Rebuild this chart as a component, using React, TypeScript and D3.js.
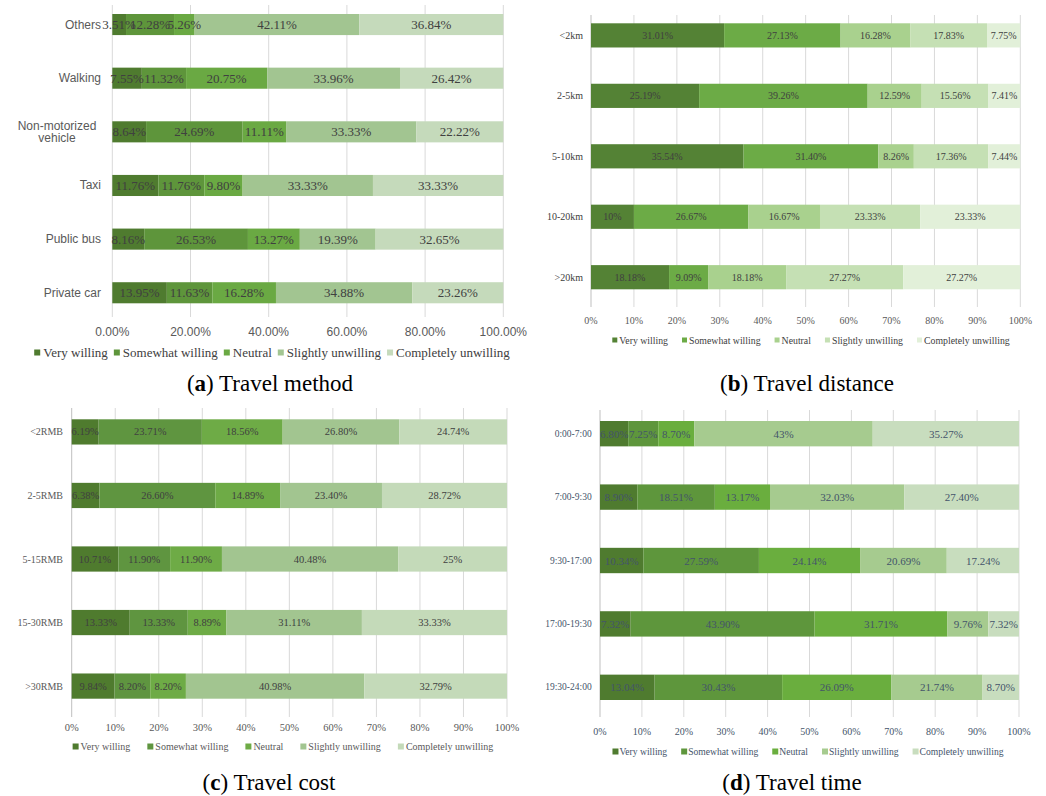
import React from "react";
import * as d3 from "d3";

const legendLabels = ["Very willing", "Somewhat willing", "Neutral", "Slightly unwilling", "Completely unwilling"];

const methodCategories = ["Others", "Walking", "Non-motorized vehicle", "Taxi", "Public bus", "Private car"];
const methodValues = [
  [3.51, 12.28, 5.26, 42.11, 36.84],
  [7.55, 11.32, 20.75, 33.96, 26.42],
  [8.64, 24.69, 11.11, 33.33, 22.22],
  [11.76, 11.76, 9.8, 33.33, 33.33],
  [8.16, 26.53, 13.27, 19.39, 32.65],
  [13.95, 11.63, 16.28, 34.88, 23.26],
];

const distanceCategories = ["<2km", "2-5km", "5-10km", "10-20km", ">20km"];
const distanceValues = [
  [31.01, 27.13, 16.28, 17.83, 7.75],
  [25.19, 39.26, 12.59, 15.56, 7.41],
  [35.54, 31.4, 8.26, 17.36, 7.44],
  [10, 26.67, 16.67, 23.33, 23.33],
  [18.18, 9.09, 18.18, 27.27, 27.27],
];

const costCategories = ["<2RMB", "2-5RMB", "5-15RMB", "15-30RMB", ">30RMB"];
const costValues = [
  [6.19, 23.71, 18.56, 26.8, 24.74],
  [6.38, 26.6, 14.89, 23.4, 28.72],
  [10.71, 11.9, 11.9, 40.48, 25],
  [13.33, 13.33, 8.89, 31.11, 33.33],
  [9.84, 8.2, 8.2, 40.98, 32.79],
];

const timeCategories = ["0:00-7:00", "7:00-9:30", "9:30-17:00", "17:00-19:30", "19:30-24:00"];
const timeValues = [
  [6.8, 7.25, 8.7, 43, 35.27],
  [8.9, 18.51, 13.17, 32.03, 27.4],
  [10.34, 27.59, 24.14, 20.69, 17.24],
  [7.32, 43.9, 31.71, 9.76, 7.32],
  [13.04, 30.43, 26.09, 21.74, 8.7],
];

const captions = [
  { letter: "a", title: "Travel method" },
  { letter: "b", title: "Travel distance" },
  { letter: "c", title: "Travel cost" },
  { letter: "d", title: "Travel time" },
];

const SERIF = "'Liberation Serif', 'Times New Roman', serif";
const SANS = "'Liberation Sans', Arial, sans-serif";

let _ctx: CanvasRenderingContext2D | null = null;
function measure(text: string, font: string) {
  if (!_ctx) _ctx = document.createElement("canvas").getContext("2d");
  if (!_ctx) return text.length * 6;
  _ctx.font = font;
  return _ctx.measureText(text).width;
}

const fmtVal = (v: number) => (Number.isInteger(v) ? `${v}%` : `${v.toFixed(2)}%`);

type Cfg = {
  categories: string[];
  values: number[][];
  colors: string[];
  xRange: [number, number];
  yRange: [number, number];
  pad: number;
  gridTop: number;
  gridBottom: number;
  gridColor: string;
  axisColor: string;
  ticks: number;
  tickFmt: (v: number) => string;
  tickY: number;
  tickFont: string;
  tickSize: number;
  tickColor: string;
  catRight: number;
  catFont: string;
  catSize: number;
  catColor: string;
  wrapCenter?: number;
  valFont: string;
  valSize: number;
  valColor: string;
  legendY: number;
  legendCenter: number;
  legendSize: number;
  legendColor: string;
  legendSq: number;
  legendSqGap: number;
  legendGap: number;
  caption: { letter: string; title: string };
  captionX: number;
  captionY: number;
};

function Panel({ cfg }: { cfg: Cfg }) {
  const x = d3.scaleLinear().domain([0, 1]).range(cfg.xRange);
  const y = d3
    .scaleBand<string>()
    .domain(cfg.categories)
    .range(cfg.yRange)
    .paddingInner(cfg.pad)
    .paddingOuter(0);
  const keys = cfg.values[0].map((_, i) => String(i));
  const rows = cfg.values.map((vals, i) => {
    const o: any = { cat: cfg.categories[i] };
    vals.forEach((v, j) => (o[String(j)] = v));
    return o;
  });
  const series = d3
    .stack<any>()
    .keys(keys)
    .value((d, k) => d[k])
    .offset(d3.stackOffsetExpand)(rows);
  const ticks = x.ticks(cfg.ticks);

  const lfont = `${cfg.legendSize}px ${cfg.valFont}`;
  const widths = legendLabels.map((l) => measure(l, lfont));
  const itemW = widths.map((w) => cfg.legendSq + cfg.legendSqGap + w);
  const total = d3.sum(itemW) + cfg.legendGap * (legendLabels.length - 1);
  let lx = cfg.legendCenter - total / 2;
  const legendPos = itemW.map((w) => {
    const p = lx;
    lx += w + cfg.legendGap;
    return p;
  });

  return (
    <g>
      {ticks.map((t, i) => (
        <line
          key={"g" + i}
          x1={x(t)}
          x2={x(t)}
          y1={cfg.gridTop}
          y2={cfg.gridBottom}
          stroke={i === 0 ? cfg.axisColor : cfg.gridColor}
          strokeWidth={1}
        />
      ))}
      {series.map((s, si) =>
        s.map((d, di) => {
          const cat = (d.data as any).cat as string;
          const x0 = x(d[0]);
          const x1 = x(d[1]);
          const yy = y(cat) as number;
          return (
            <rect
              key={`b${si}-${di}`}
              x={x0}
              y={yy}
              width={x1 - x0}
              height={y.bandwidth()}
              fill={cfg.colors[si]}
            />
          );
        })
      )}
      {series.map((s, si) =>
        s.map((d, di) => {
          const cat = (d.data as any).cat as string;
          const x0 = x(d[0]);
          const x1 = x(d[1]);
          const yy = (y(cat) as number) + y.bandwidth() / 2;
          return (
            <text
              key={`t${si}-${di}`}
              x={(x0 + x1) / 2}
              y={yy}
              textAnchor="middle"
              dominantBaseline="central"
              fontFamily={cfg.valFont}
              fontSize={cfg.valSize}
              fill={cfg.valColor}
            >
              {fmtVal(cfg.values[di][si])}
            </text>
          );
        })
      )}
      {cfg.categories.map((c) => {
        const cy = (y(c) as number) + y.bandwidth() / 2;
        const parts = c.split(" ");
        if (cfg.wrapCenter !== undefined && measure(c, `${cfg.catSize}px ${cfg.catFont}`) > 85) {
          const l1 = parts[0];
          const l2 = parts.slice(1).join(" ");
          return (
            <text
              key={c}
              textAnchor="middle"
              fontFamily={cfg.catFont}
              fontSize={cfg.catSize}
              fill={cfg.catColor}
              dominantBaseline="central"
            >
              <tspan x={cfg.wrapCenter} y={cy - 5.5}>
                {l1}
              </tspan>
              <tspan x={cfg.wrapCenter} y={cy + 6.5}>
                {l2}
              </tspan>
            </text>
          );
        }
        return (
          <text
            key={c}
            x={cfg.catRight}
            y={cy}
            textAnchor="end"
            dominantBaseline="central"
            fontFamily={cfg.catFont}
            fontSize={cfg.catSize}
            fill={cfg.catColor}
          >
            {c}
          </text>
        );
      })}
      {ticks.map((t, i) => (
        <text
          key={"tk" + i}
          x={x(t)}
          y={cfg.tickY}
          textAnchor="middle"
          dominantBaseline="central"
          fontFamily={cfg.tickFont}
          fontSize={cfg.tickSize}
          fill={cfg.tickColor}
        >
          {cfg.tickFmt(t)}
        </text>
      ))}
      {legendLabels.map((l, i) => (
        <g key={"lg" + i}>
          <rect
            x={legendPos[i]}
            y={cfg.legendY - cfg.legendSq / 2}
            width={cfg.legendSq}
            height={cfg.legendSq}
            fill={cfg.colors[i]}
          />
          <text
            x={legendPos[i] + cfg.legendSq + cfg.legendSqGap}
            y={cfg.legendY}
            dominantBaseline="central"
            fontFamily={cfg.valFont}
            fontSize={cfg.legendSize}
            fill={cfg.legendColor}
          >
            {l}
          </text>
        </g>
      ))}
      <text
        x={cfg.captionX}
        y={cfg.captionY}
        textAnchor="middle"
        fontFamily={SERIF}
        fontSize={23}
        fill="#000"
      >
        (<tspan fontWeight="bold">{cfg.caption.letter}</tspan>) {cfg.caption.title}
      </text>
    </g>
  );
}

const pct2 = d3.format(".2%");
const pct0 = d3.format(".0%");

const panels: Cfg[] = [
  {
    categories: methodCategories,
    values: methodValues,
    colors: ["#4f7b2f", "#5e953b", "#6aa943", "#a2c591", "#c5dabb"],
    xRange: [112.3, 503.3],
    yRange: [14, 303.3],
    pad: 0.607,
    gridTop: 5,
    gridBottom: 317,
    gridColor: "#d9d9d9",
    axisColor: "#d9d9d9",
    ticks: 5,
    tickFmt: (v) => pct2(v),
    tickY: 331.5,
    tickFont: SANS,
    tickSize: 12,
    tickColor: "#595959",
    catRight: 101,
    catFont: SANS,
    catSize: 12,
    catColor: "#595959",
    wrapCenter: 57,
    valFont: SERIF,
    valSize: 13,
    valColor: "#404040",
    legendY: 352.5,
    legendCenter: 272,
    legendSize: 13,
    legendColor: "#404040",
    legendSq: 6,
    legendSqGap: 3,
    legendGap: 6,
    caption: captions[0],
    captionX: 270,
    captionY: 391,
  },
  {
    categories: distanceCategories,
    values: distanceValues,
    colors: ["#548235", "#6cab46", "#a9d18e", "#c5e0b4", "#e2f0d9"],
    xRange: [591, 1020.3],
    yRange: [23.3, 289.3],
    pad: 0.6,
    gridTop: 15,
    gridBottom: 307,
    gridColor: "#d9d9d9",
    axisColor: "#bfbfbf",
    ticks: 10,
    tickFmt: (v) => pct0(v),
    tickY: 320.5,
    tickFont: SERIF,
    tickSize: 10,
    tickColor: "#595959",
    catRight: 583,
    catFont: SERIF,
    catSize: 10,
    catColor: "#404040",
    valFont: SERIF,
    valSize: 10,
    valColor: "#404040",
    legendY: 340,
    legendCenter: 811,
    legendSize: 9.8,
    legendColor: "#404040",
    legendSq: 5,
    legendSqGap: 2,
    legendGap: 14,
    caption: captions[1],
    captionX: 807,
    captionY: 391,
  },
  {
    categories: costCategories,
    values: costValues,
    colors: ["#4f7b2e", "#5f9540", "#6eab46", "#a2c590", "#c4dab9"],
    xRange: [71.7, 507],
    yRange: [419.3, 698.7],
    pad: 0.603,
    gridTop: 408,
    gridBottom: 717,
    gridColor: "#d9d9d9",
    axisColor: "#bfbfbf",
    ticks: 10,
    tickFmt: (v) => pct0(v),
    tickY: 727.7,
    tickFont: SERIF,
    tickSize: 10.5,
    tickColor: "#595959",
    catRight: 63,
    catFont: SERIF,
    catSize: 10,
    catColor: "#595959",
    valFont: SERIF,
    valSize: 10.5,
    valColor: "#404040",
    legendY: 746.5,
    legendCenter: 283,
    legendSize: 10,
    legendColor: "#595959",
    legendSq: 6,
    legendSqGap: 2,
    legendGap: 17,
    caption: captions[2],
    captionX: 269,
    captionY: 790,
  },
  {
    categories: timeCategories,
    values: timeValues,
    colors: ["#4f7b2f", "#5e963c", "#6aae3e", "#a6cb8f", "#c8ddbe"],
    xRange: [600, 1019],
    yRange: [421, 700],
    pad: 0.6,
    gridTop: 410,
    gridBottom: 717,
    gridColor: "#d9d9d9",
    axisColor: "#bfbfbf",
    ticks: 10,
    tickFmt: (v) => pct0(v),
    tickY: 731.5,
    tickFont: SERIF,
    tickSize: 10,
    tickColor: "#44546a",
    catRight: 591.7,
    catFont: SERIF,
    catSize: 9.5,
    catColor: "#44546a",
    valFont: SERIF,
    valSize: 11,
    valColor: "#44546a",
    legendY: 751.5,
    legendCenter: 808,
    legendSize: 9.6,
    legendColor: "#44546a",
    legendSq: 6,
    legendSqGap: 1,
    legendGap: 14,
    caption: captions[3],
    captionX: 792,
    captionY: 790,
  },
];

export default function App() {
  return (
    <svg
      width={1046}
      height={796}
      style={{ position: "absolute", left: 0, top: 0, background: "#fff" }}
    >
      <rect width={1046} height={796} fill="#fff" />
      {panels.map((p, i) => (
        <Panel key={i} cfg={p} />
      ))}
    </svg>
  );
}
